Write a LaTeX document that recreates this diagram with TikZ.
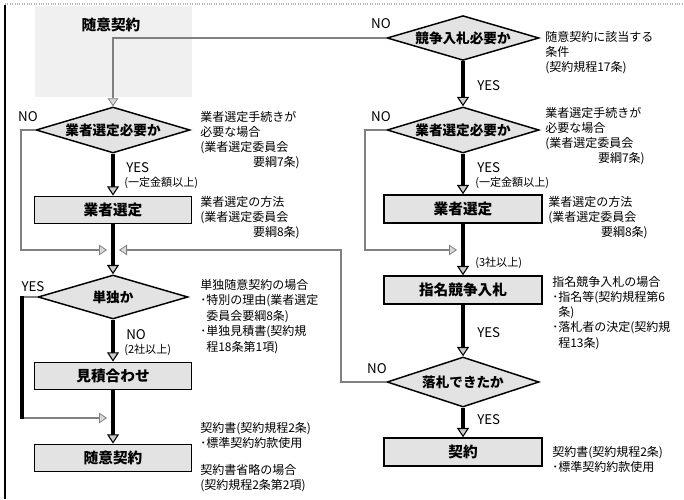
\documentclass[tikz,border=0pt]{standalone}
\usepackage{fontspec}
\setmainfont{Noto Sans CJK JP}
\usetikzlibrary{shapes.geometric,arrows.meta}
\begin{document}
\begin{tikzpicture}[x=0.75pt,y=-0.75pt,
  dia/.style={draw=black,line width=1.1pt,fill=gray!22,diamond,shape aspect=3,inner sep=0pt,font=\fontsize{10.2}{12}\selectfont\bfseries},
  box/.style={draw=black,line width=1.1pt,fill=gray!22,rectangle,inner sep=0pt,minimum width=117.75pt,minimum height=20.5pt,font=\fontsize{11}{13}\selectfont\bfseries},
  flow/.style={line width=3pt,black},
  noline/.style={line width=1.8pt,black!50},
  arrf/.style={-{Triangle[length=7pt,width=9pt,fill=gray!40,line width=0.8pt]}},
  arrn/.style={-{Triangle[length=6pt,width=8pt,fill=gray!30,line width=0.6pt]}},
  note/.style={anchor=north west,align=left,inner sep=0pt,font=\fontsize{9}{11.2}\selectfont},
  lab/.style={inner sep=0pt,font=\fontsize{10}{12}\selectfont},
  slab/.style={inner sep=0pt,anchor=west,font=\fontsize{8.3}{10}\selectfont}]
\useasboundingbox (0,0) rectangle (684,499);
% frame
\draw[line width=1.2pt] (5,5) -- (5,499);
\draw[gray!60,densely dotted,line width=0.8pt] (5,4) -- (684,4);
% start area
\fill[gray!12] (35,6) rectangle (192,97);
\node[inner sep=0pt,font=\fontsize{11}{13}\selectfont\bfseries] (start) at (111,25) {随意契約};
% left column
\node[dia,minimum width=115.5pt,minimum height=34.5pt] (d1) at (113,130) {業者選定必要か};
\node[box] (b1) at (113,210) {業者選定};
\node[dia,minimum width=112.5pt,minimum height=33pt] (d2) at (113,297) {単独か};
\node[box] (b2) at (113,376) {見積合わせ};
\node[box] (b3) at (113,458) {随意契約};
% right column
\node[dia,minimum width=114pt,minimum height=31.5pt] (r1) at (463,38) {競争入札必要か};
\node[dia,minimum width=114pt,minimum height=34.5pt] (r2) at (463,130) {業者選定必要か};
\node[box,minimum width=118.5pt,minimum height=21pt] (rb1) at (463,209) {業者選定};
\node[box,minimum width=118.5pt,minimum height=21pt] (rb2) at (463,290) {指名競争入札};
\node[dia,minimum width=114pt,minimum height=37.5pt] (r3) at (463,382) {落札できたか};
\node[box,minimum width=118.5pt,minimum height=21pt] (rb3) at (463,452) {契約};
% junction coordinates
\coordinate (jLw) at (107,250);
\coordinate (jLe) at (119,250);
\coordinate (jRw) at (457,250);
\coordinate (yb) at (22,297);
\coordinate (yb2) at (22,418);
\coordinate (jL2w) at (107,418);
% NO / hatched connectors
\draw[noline,arrn] (r1.west) -| (d1.north);
\draw[noline,arrn] (d1.west) -- ++(-14,0) |- (jLw);
\draw[noline,arrn] (r3.west) -- ++(-45,0) |- (jLe);
\draw[noline,arrn] (r2.west) -- ++(-21,0) |- (jRw);
\draw[noline] (d2.west) -- (yb);
\draw[noline,arrn] (yb2) -- (jL2w);
\draw[flow] ([yshift=0.9pt]yb) -- ([yshift=-0.9pt]yb2);
% main thick flows
\draw[flow,arrf] (d1.south) -- (b1.north);
\draw[flow,arrf] (b1.south) -- (d2.north);
\draw[flow,arrf] (d2.south) -- (b2.north);
\draw[flow,arrf] (b2.south) -- (b3.north);
\draw[flow,arrf] (r1.south) -- (r2.north);
\draw[flow,arrf] (r2.south) -- (rb1.north);
\draw[flow,arrf] (rb1.south) -- (rb2.north);
\draw[flow,arrf] (rb2.south) -- (r3.north);
\draw[flow,arrf] (r3.south) -- (rb3.north);
% labels left
\node[lab] (n1) at (28,117) {NO};
\node[lab,anchor=west] (y1) at (126,168) {YES};
\node[slab] (y1b) at (124,183) {(一定金額以上)};
\node[lab] (y2) at (33,287) {YES};
\node[lab,anchor=west] (n2) at (126,335) {NO};
\node[slab] (n2b) at (124,350) {(2社以上)};
% labels right
\node[lab] (n3) at (381,24) {NO};
\node[lab,anchor=west] (y3) at (477,86) {YES};
\node[lab] (n4) at (381,117) {NO};
\node[lab,anchor=west] (y4) at (477,168) {YES};
\node[slab] (y4b) at (475,183) {(一定金額以上)};
\node[slab] (n5) at (475,263) {(3社以上)};
\node[lab,anchor=west] (y5) at (477,333) {YES};
\node[lab] (n6) at (377,369) {NO};
\node[lab,anchor=west] (y6) at (477,420) {YES};
% notes left
\node[note] (a1) at (200,111) {業者選定手続きが\\必要な場合\\(業者選定委員会\\\hspace*{4.4em}要綱7条)};
\node[note] (a2) at (200,196) {業者選定の方法\\(業者選定委員会\\\hspace*{4.4em}要綱8条)};
\node[note,font=\fontsize{9}{11.6}\selectfont] (a3) at (200,279) {単独随意契約の場合\\･特別の理由(業者選定\\\hspace*{0.5em}委員会要綱8条)\\･単独見積書(契約規\\\hspace*{0.5em}程18条第1項)};
\node[note] (a4) at (200,422) {契約書(契約規程2条)\\･標準契約約款使用};
\node[note] (a5) at (200,464) {契約書省略の場合\\(契約規程2条第2項)};
% notes right
\node[note] (b1n) at (545,31) {随意契約に該当する\\条件\\(契約規程17条)};
\node[note] (b2n) at (545,107) {業者選定手続きが\\必要な場合\\(業者選定委員会\\\hspace*{4.4em}要綱7条)};
\node[note] (b3n) at (548,196) {業者選定の方法\\(業者選定委員会\\\hspace*{4.4em}要綱8条)};
\node[note,font=\fontsize{9}{11.4}\selectfont] (b4n) at (552,276) {指名競争入札の場合\\･指名等(契約規程第6\\\hspace*{0.5em}条)\\･落札者の決定(契約規\\\hspace*{0.5em}程13条)};
\node[note] (b5n) at (552,446) {契約書(契約規程2条)\\･標準契約約款使用};
\end{tikzpicture}
\end{document}
